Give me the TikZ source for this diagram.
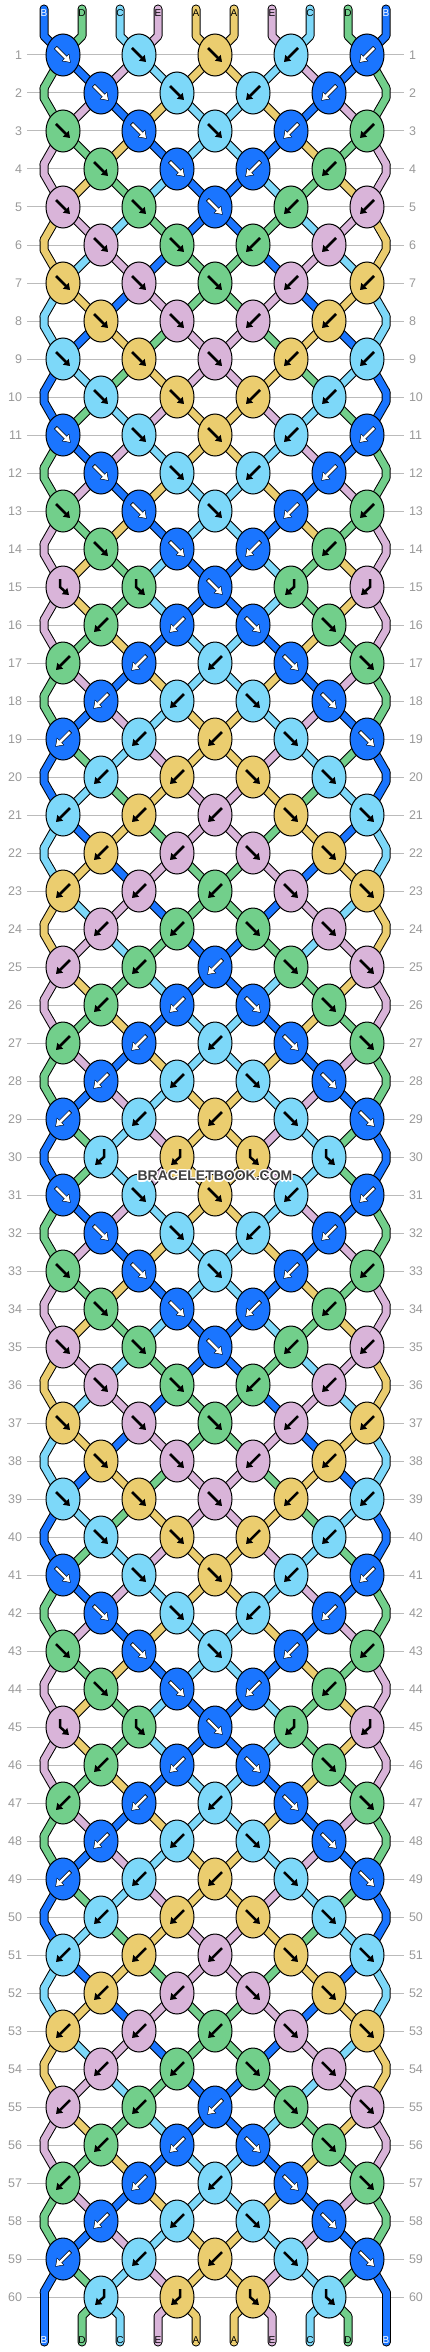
\documentclass[tikz,border=0pt]{standalone}
\usepackage{fontspec}
\setmainfont{Liberation Sans}
\usetikzlibrary{shapes.geometric,arrows.meta}
\pgfdeclarelayer{background}
\pgfsetlayers{background,main}

% thread colours: 1=A 2=B 3=C 4=D 5=E
\definecolor{col1}{HTML}{EBCD6F}
\definecolor{col2}{HTML}{1A75FF}
\definecolor{col3}{HTML}{7DD8F9}
\definecolor{col4}{HTML}{72CF8B}
\definecolor{col5}{HTML}{D9B4D9}
\definecolor{rowgray}{HTML}{999999}
\definecolor{linegray}{HTML}{BBBBBB}
\definecolor{wmgray}{HTML}{404040}
\colorlet{lab1}{black}
\colorlet{lab2}{white}
\colorlet{lab3}{black}
\colorlet{lab4}{black}
\colorlet{lab5}{black}

\tikzset{
  knot/.style={ellipse, draw=black, line width=1pt, minimum width=34pt, minimum height=42pt, inner sep=0pt},
  strand/.style={draw=black, line width=9pt, line cap=round, line join=round},
  strandfill/.style={draw=col#1, line width=7pt, line cap=round, line join=round},
  glyph/.style={line width=2.5pt, -{Triangle[length=6pt,width=8pt]}},
  glyphedge/.style={draw=black, line width=3.9pt, shorten >=-1pt, shorten <=-0.8pt, -{Triangle[length=7.5pt,width=10pt]}},
  glyphcol1/.style={draw=black},
  glyphcol2/.style={draw=white},
  glyphcol3/.style={draw=black},
  glyphcol4/.style={draw=black},
  glyphcol5/.style={draw=black},
  rownum/.style={text=rowgray, font=\fontsize{12.5}{12.5}\selectfont, inner sep=0pt, outer sep=5pt},
  rowline/.style={draw=linegray, line width=1pt},
  strlabel/.style={font=\fontsize{10}{10}\selectfont, inner sep=0pt},
  wm/.style={font=\bfseries\fontsize{14}{14}\selectfont, inner sep=0pt}
}

% thread order between rows
\newcommand\setstate[2]{\expandafter\def\csname st#1\endcsname{#2}}
\setstate{0}{2,4,3,5,1,1,5,3,4,2}
\setstate{1}{4,2,5,3,1,1,3,5,2,4}
\setstate{2}{4,5,2,1,3,3,1,2,5,4}
\setstate{3}{5,4,1,2,3,3,2,1,4,5}
\setstate{4}{5,1,4,3,2,2,3,4,1,5}
\setstate{5}{1,5,3,4,2,2,4,3,5,1}
\setstate{6}{1,3,5,2,4,4,2,5,3,1}
\setstate{7}{3,1,2,5,4,4,5,2,1,3}
\setstate{8}{3,2,1,4,5,5,4,1,2,3}
\setstate{9}{2,3,4,1,5,5,1,4,3,2}

% knot kinds: 0 forward, 1 backward, 2 forward-backward, 3 backward-forward
\def\kFo{0,0,0,1,1}
\def\kFe{0,0,1,1}
\def\kBo{1,1,1,0,0}
\def\kBe{1,1,0,0}
\def\kXo{2,2,0,3,3}
\def\kYe{3,3,2,2}

% row / state before / state after / kinds
\def\rowdata{1/0/1/Fo,2/1/2/Fe,3/2/3/Fo,4/3/4/Fe,5/4/5/Fo,
  6/5/6/Fe,7/6/7/Fo,8/7/8/Fe,9/8/9/Fo,10/9/0/Fe,
  11/0/1/Fo,12/1/2/Fe,13/2/3/Fo,14/3/4/Fe,15/4/4/Xo,
  16/4/3/Be,17/3/2/Bo,18/2/1/Be,19/1/0/Bo,20/0/9/Be,
  21/9/8/Bo,22/8/7/Be,23/7/6/Bo,24/6/5/Be,25/5/4/Bo,
  26/4/3/Be,27/3/2/Bo,28/2/1/Be,29/1/0/Bo,30/0/0/Ye}

\newcommand\drawglyph[2]{%
  \ifcase#1\relax
    \draw[#2] (-7,-7) -- (7,7);
  \or
    \draw[#2] (7,-7) -- (-7,7);
  \or
    \draw[#2] (-3,-8) -- (-3,0) -- (6,8);
  \or
    \draw[#2] (3,-8) -- (3,0) -- (-6,8);
  \fi}

\newcommand\strands[1]{%
  \edef\first{\csname st0\endcsname}
  % from the top ends into row 1
  \foreach \cl [count=\pp] in \first {
    \pgfmathtruncatemacro\kk{ceil(\pp/2)}
    \draw[#1=\cl] (t\pp) -- (tb\pp) -- (k1-\kk.center);
  }
  % between rows
  \foreach \h in {0,1}{
    \foreach \mm/\bi/\ai/\kn in \rowdata {
      \pgfmathtruncatemacro\row{\mm+30*\h}
      \ifnum\row<60
        \pgfmathtruncatemacro\nxt{\row+1}
        \edef\after{\csname st\ai\endcsname}
        \foreach \cl [count=\pp] in \after {
          \pgfmathtruncatemacro\ka{mod(\row,2)==1 ? ceil(\pp/2) : floor(\pp/2)}
          \pgfmathtruncatemacro\kb{mod(\nxt,2)==1 ? ceil(\pp/2) : floor(\pp/2)}
          \pgfmathtruncatemacro\edge{mod(\row,2)==0 && (\ka==0 || \ka==5)}
          \ifnum\edge=1
            \draw[#1=\cl] (k\row-\ka) -- (e\row-\ka) -- (k\nxt-\kb.center);
          \else
            \draw[#1=\cl] (k\row-\ka.center) -- (k\nxt-\kb.center);
          \fi
        }
      \fi
    }
  }
  % from row 60 to the bottom ends
  \foreach \cl [count=\pp] in \first {
    \pgfmathtruncatemacro\kk{floor(\pp/2)}
    \draw[#1=\cl] (k60-\kk.center) -- (bb\pp) -- (b\pp);
  }}

\begin{document}
\begin{tikzpicture}[x=1pt, y=-1pt]
\useasboundingbox (0,0) rectangle (430,2352);

% row numbers
\foreach \row in {1,...,60}{
  \pgfmathsetmacro\y{55+38*(\row-1)}
  \node[rownum, anchor=east] (nl\row) at (27,\y) {\row};
  \node[rownum, anchor=west] (nr\row) at (404,\y) {\row};
}

% thread ends and letters
\edef\first{\csname st0\endcsname}
\foreach \cl [count=\pp] in \first {
  \pgfmathsetmacro\x{44+38*(\pp-1)}
  \coordinate (t\pp) at (\x,9);
  \coordinate (tb\pp) at (\x,36);
  \coordinate (bb\pp) at (\x,2316);
  \coordinate (b\pp) at (\x,2342);
  \node[strlabel, text=lab\cl] (lt\pp) at (\x,13) {\ifcase\cl\or A\or B\or C\or D\or E\fi};
  \node[strlabel, text=lab\cl] (lb\pp) at (\x,2340) {\ifcase\cl\or A\or B\or C\or D\or E\fi};
}

% knots
\foreach \h in {0,1}{
  \foreach \mm/\bi/\ai/\kn in \rowdata {
    \pgfmathtruncatemacro\row{\mm+30*\h}
    \pgfmathsetmacro\y{55+38*(\row-1)}
    \edef\before{\csname st\bi\endcsname}
    \edef\kinds{\csname k\kn\endcsname}
    \pgfmathtruncatemacro\odd{mod(\row,2)}
    \ifnum\odd=0
      % the edge threads bend here
      \coordinate (k\row-0) at (44,\y-5);
      \coordinate (e\row-0) at (44,\y+5);
      \coordinate (k\row-5) at (386,\y-5);
      \coordinate (e\row-5) at (386,\y+5);
    \fi
    \foreach \kd [count=\kk] in \kinds {
      \pgfmathsetmacro\x{\odd==1 ? 63+76*(\kk-1) : 101+76*(\kk-1)}
      \pgfmathtruncatemacro\pos{(\odd==1 ? 2*\kk-2 : 2*\kk-1) + mod(\kd,2)}
      \pgfmathtruncatemacro\cl{{\before}[\pos]}
      \node[knot, fill=col\cl] (k\row-\kk) at (\x,\y) {};
      \begin{scope}[shift={(k\row-\kk.center)}]
        \ifnum\cl=2 \drawglyph{\kd}{glyphedge}\fi
        \drawglyph{\kd}{glyph, glyphcol\cl}
      \end{scope}
    }
  }
}

\begin{pgfonlayer}{background}
  \fill[white] (0,0) rectangle (430,2352);
  \foreach \row in {1,...,60}
    \draw[rowline] (nl\row) -- (nr\row);
  \strands{strand}
  \strands{strandfill}
\end{pgfonlayer}

% watermark
\foreach \dx/\dy [count=\n] in {-1.2/0,1.2/0,0/-1.2,0/1.2,-1/-1,1/-1,-1/1,1/1}
  \node[wm, text=white] (halo\n) at (215+\dx,1176+\dy) {BRACELETBOOK.COM};
\node[wm, text=wmgray] (wm) at (215,1176) {BRACELETBOOK.COM};
\end{tikzpicture}
\end{document}
